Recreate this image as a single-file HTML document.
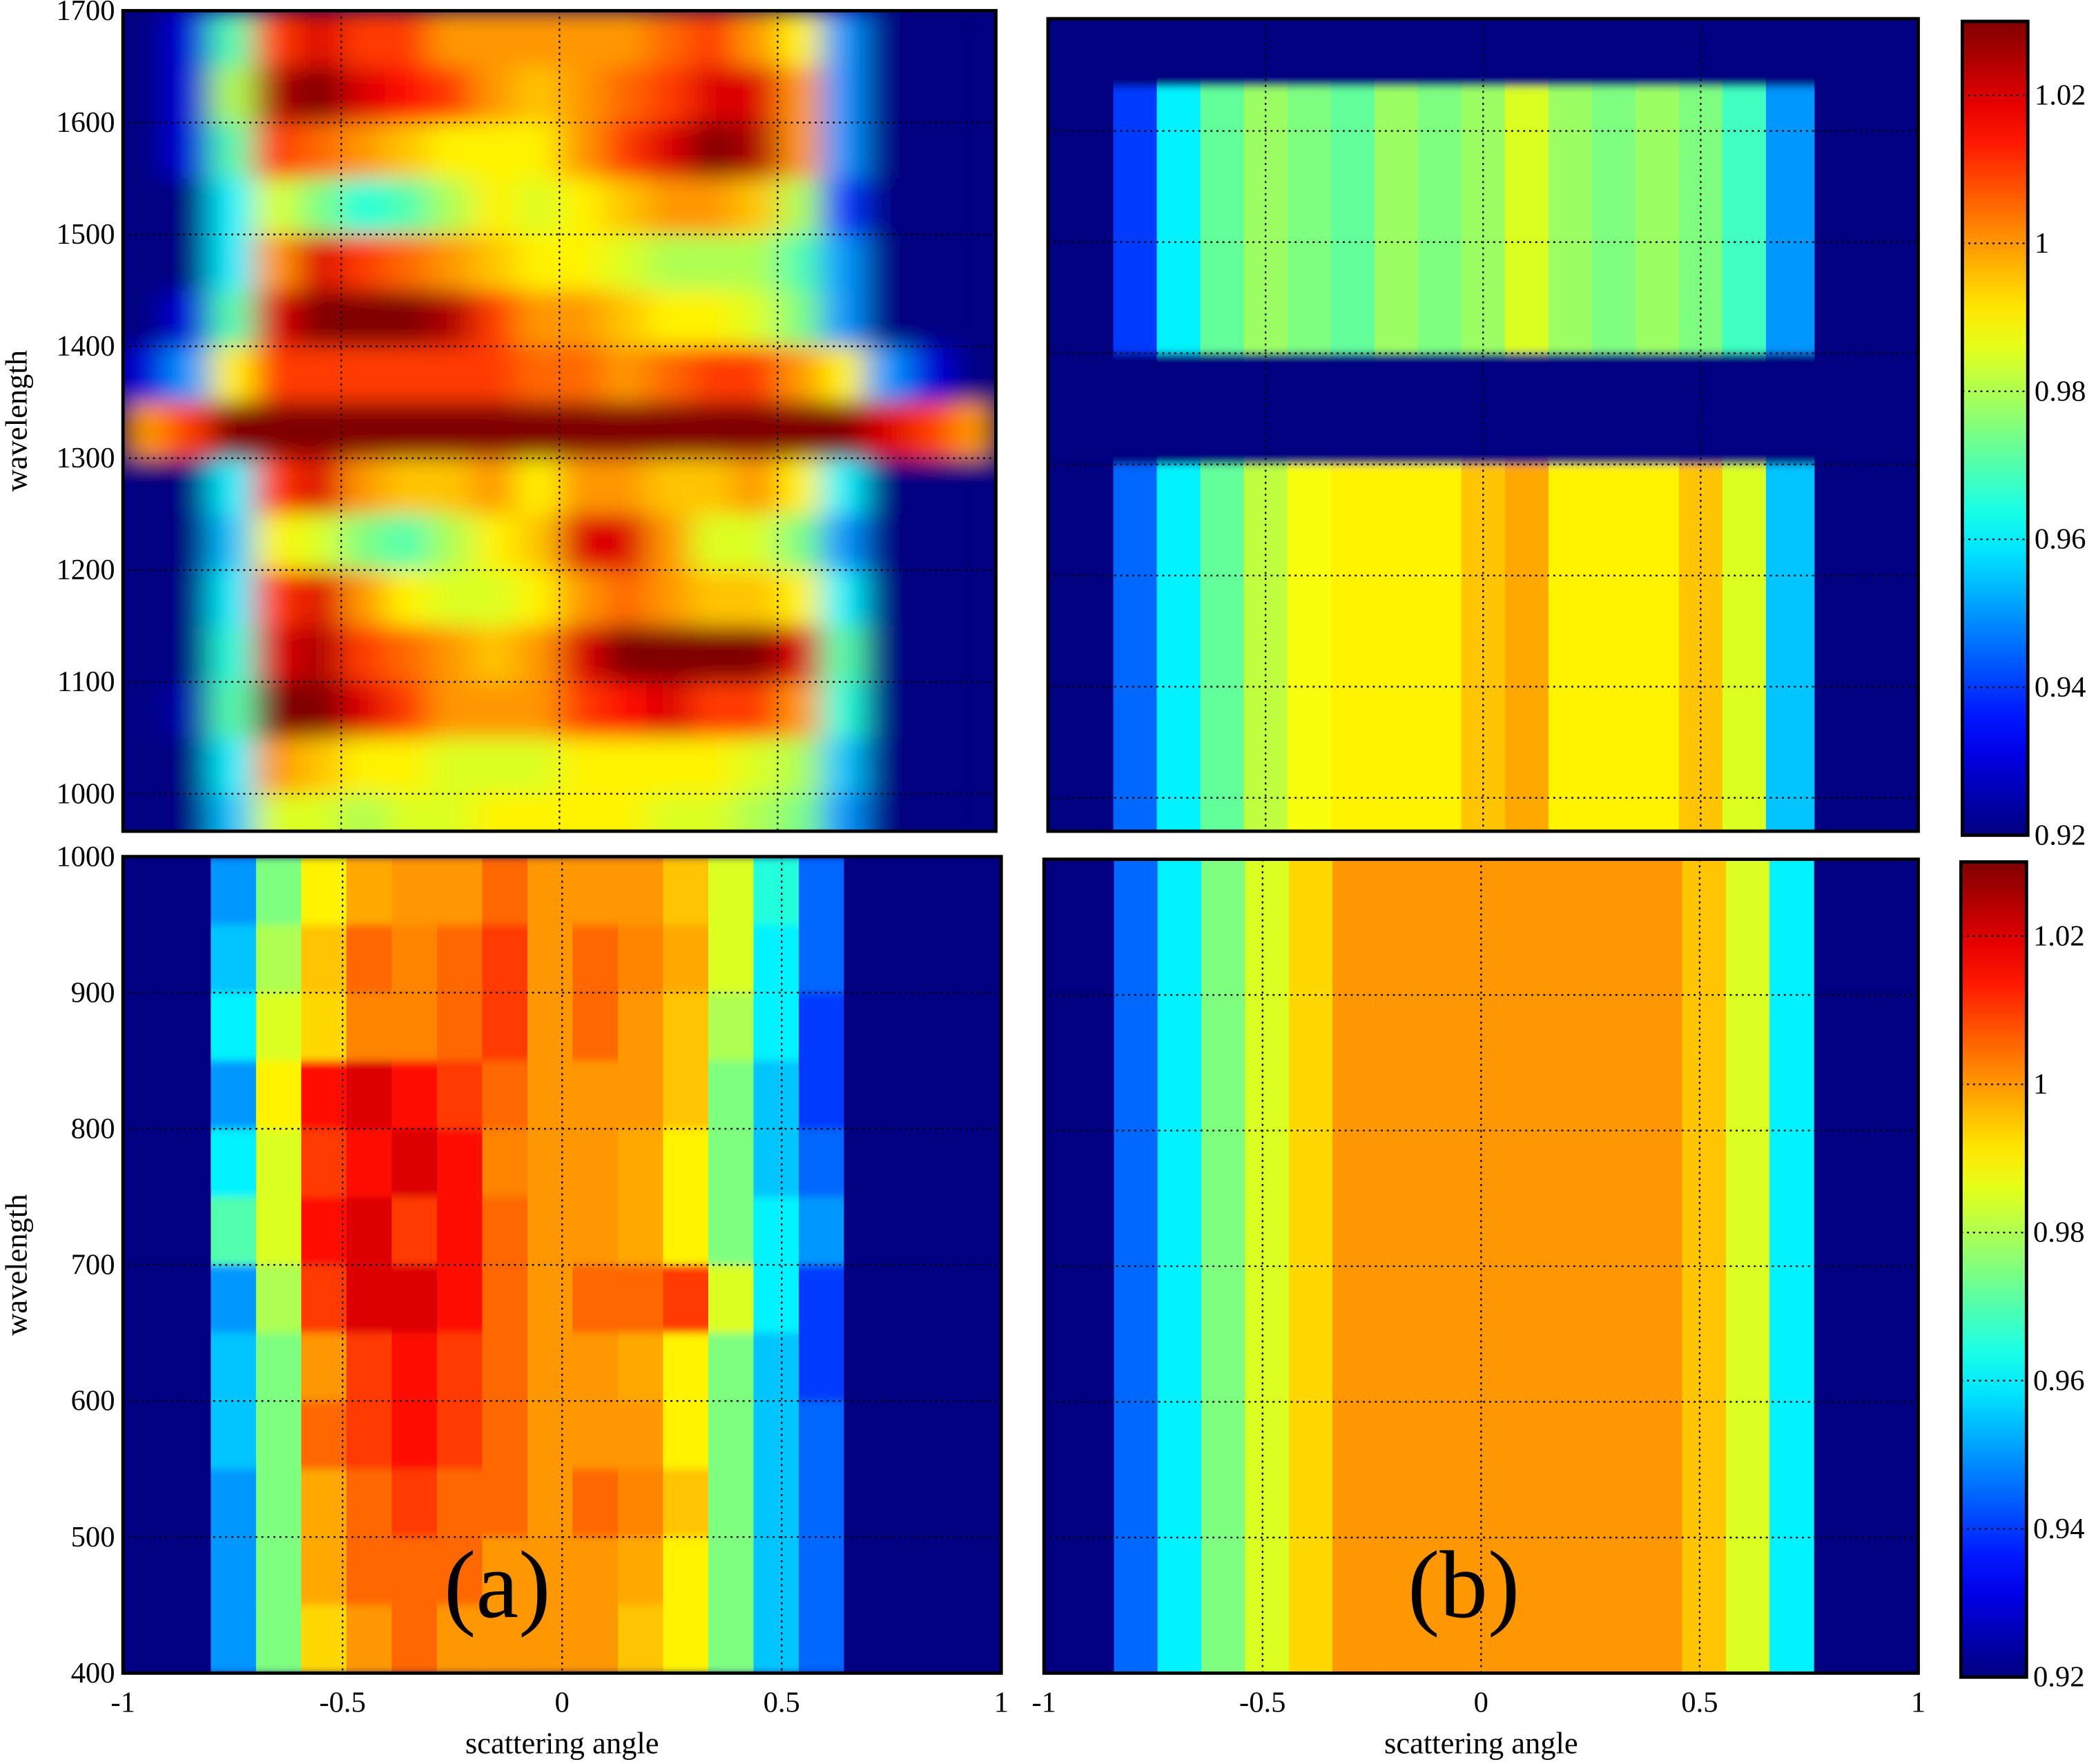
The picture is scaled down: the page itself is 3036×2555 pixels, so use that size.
<!DOCTYPE html>
<html><head><meta charset="utf-8">
<style>
html,body{margin:0;padding:0;background:#fff;}
svg{display:block;}
text{font-family:"Liberation Serif",serif;fill:#000;}
</style></head>
<body>
<svg id="fig" width="3036" height="2555" viewBox="0 0 1568 1320" preserveAspectRatio="none" xmlns="http://www.w3.org/2000/svg">
<defs>
<filter id="blurTL" x="0" y="0" width="1" height="1"><feGaussianBlur stdDeviation="12 8" edgeMode="duplicate"/></filter>
<filter id="blurS" x="0" y="0" width="1" height="1"><feGaussianBlur stdDeviation="0 3" edgeMode="duplicate"/></filter>
<clipPath id="cTL"><rect x="92" y="8" width="653" height="614"/></clipPath>
<clipPath id="cTR"><rect x="784" y="14" width="651" height="608"/></clipPath>
<clipPath id="cBL"><rect x="92" y="641" width="657" height="611"/></clipPath>
<clipPath id="cBR"><rect x="781" y="643" width="654" height="609"/></clipPath>
<linearGradient id="jetGrad" x1="0" y1="1" x2="0" y2="0"></linearGradient>
</defs>
<g id="root"></g>
</svg>
<script>
// ---- data ----
const vmin = 0.92, vmax = 1.03;
const tlAngles = [-1,-0.9,-0.8,-0.7,-0.6,-0.5,-0.4,-0.3,-0.2,-0.1,0,0.1,0.2,0.3,0.4,0.5,0.6,0.7,0.8,0.9,1];
const tlWave = [1700,1650,1600,1550,1500,1450,1400,1350,1300,1250,1200,1150,1100,1050,1000,950];
const tlVals = [
[.92,.93,.97,1.01,1.02,1.01,1.01,1.0,1.0,1.0,1.0,1.0,1.005,1.01,1.0,.99,.95,.92,.92,.92],
[.92,.93,.98,1.025,1.03,1.02,1.015,1.01,1.0,.995,1.0,1.005,1.01,1.02,1.02,1.0,.95,.92,.92,.92],
[.92,.93,.97,1.01,1.005,1.0,.995,.99,.99,.99,1.0,1.01,1.02,1.03,1.025,1.0,.95,.92,.92,.92],
[.92,.92,.96,.985,.975,.965,.97,.98,.99,.985,.99,.995,1.0,1.0,.995,.98,.94,.92,.92,.92],
[.92,.92,.96,1.0,1.02,1.01,1.005,1.0,.995,.99,.99,.985,.98,.98,.98,.97,.95,.92,.92,.92],
[.92,.93,.97,1.02,1.03,1.03,1.03,1.025,1.01,1.0,1.0,.995,.99,.99,.985,.975,.95,.92,.92,.92],
[.93,.95,.99,1.01,1.01,1.01,1.01,1.01,1.01,1.005,1.005,1.0,1.005,1.01,1.01,1.0,.99,.95,.93,.92],
[1.0,1.01,1.03,1.03,1.03,1.03,1.03,1.03,1.03,1.03,1.03,1.03,1.03,1.03,1.03,1.03,1.03,1.02,1.01,1.0],
[.92,.92,.96,1.01,1.02,1.0,.995,.995,1.0,.99,1.0,1.0,.995,.995,1.0,.99,.96,.92,.92,.92],
[.92,.92,.955,.99,.985,.975,.97,.98,.99,.995,1.02,1.02,1.0,.985,.985,.975,.95,.92,.92,.92],
[.92,.92,.96,1.01,1.02,1.0,.99,.985,.985,.99,1.0,1.005,1.0,.995,.995,.99,.96,.92,.92,.92],
[.92,.92,.965,1.02,1.025,1.01,1.005,1.0,.995,1.0,1.02,1.03,1.03,1.03,1.03,1.02,.97,.92,.92,.92],
[.92,.925,.97,1.03,1.03,1.02,1.01,1.0,1.0,1.0,1.01,1.015,1.02,1.01,1.01,1.0,.965,.92,.92,.92],
[.92,.92,.96,1.0,.995,.99,.99,.985,.985,.985,.99,.99,.99,.99,.985,.98,.955,.92,.92,.92],
[.92,.92,.955,.985,.985,.98,.985,.985,.99,.99,.99,.99,.985,.985,.98,.975,.95,.92,.92,.92]
];
const trAngles = [-0.85,-0.75,-0.65,-0.55,-0.45,-0.35,-0.25,-0.15,-0.05,0.05,0.15,0.25,0.35,0.45,0.55,0.65,0.76];
const trWave = [1700,1640,1400,1300,950];
const trVals = [
[.92,.92,.92,.92,.92,.92,.92,.92,.92,.92,.92,.92,.92,.92,.92,.92],
[.94,.96,.972,.978,.975,.972,.978,.975,.978,.985,.978,.975,.978,.975,.968,.95],
[.92,.92,.92,.92,.92,.92,.92,.92,.92,.92,.92,.92,.92,.92,.92,.92],
[.945,.96,.972,.982,.988,.99,.99,.99,.995,.998,.99,.99,.99,.995,.985,.955]
];
const blAngles = [-0.8,-0.697,-0.594,-0.491,-0.388,-0.285,-0.182,-0.079,0.024,0.127,0.23,0.333,0.436,0.539,0.64];
const blWave = [1000,950,900,850,800,750,700,650,600,550,500,450,400];
const blVals = [
[0.95,0.975,0.99,0.998,1.0,1.0,1.005,1.0,1.0,1.0,0.995,0.985,0.965,0.945],
[0.955,0.98,0.995,1.005,1.002,1.005,1.01,1.0,1.005,1.002,0.998,0.985,0.96,0.945],
[0.96,0.985,0.993,1.002,1.002,1.005,1.01,1.0,1.005,1.0,0.995,0.98,0.96,0.94],
[0.95,0.99,1.015,1.02,1.015,1.01,1.005,1.0,1.0,1.0,0.995,0.975,0.955,0.94],
[0.96,0.985,1.01,1.015,1.02,1.015,1.002,1.0,1.0,0.998,0.99,0.975,0.955,0.945],
[0.97,0.985,1.015,1.02,1.01,1.015,1.005,1.0,1.0,0.998,0.99,0.975,0.96,0.95],
[0.95,0.98,1.01,1.02,1.02,1.015,1.005,1.0,1.005,1.005,1.01,0.985,0.96,0.94],
[0.955,0.975,1.0,1.01,1.015,1.01,1.005,1.0,1.0,0.998,0.99,0.975,0.955,0.94],
[0.955,0.975,1.005,1.01,1.015,1.01,1.005,1.0,1.0,1.0,0.99,0.975,0.955,0.945],
[0.95,0.975,0.998,1.005,1.01,1.005,1.005,1.0,1.005,1.002,0.995,0.975,0.955,0.945],
[0.95,0.975,0.998,1.005,1.005,1.005,1.0,1.0,1.0,0.998,0.99,0.975,0.955,0.945],
[0.95,0.975,0.993,1.0,1.005,1.0,1.0,1.0,1.0,0.995,0.99,0.975,0.955,0.945]
];
const brAngles = [-0.84,-0.74,-0.64,-0.54,-0.44,-0.34,-0.24,-0.14,-0.04,0.06,0.16,0.26,0.36,0.46,0.56,0.66,0.76];
const brWave = [1000,400];
const brVals = [
[0.945,0.96,0.975,0.985,0.993,1.0,1.0,1.0,1.0,1.0,1.0,1.0,1.0,0.995,0.985,0.96]
];
const xTicks = [-1,-0.5,0,0.5,1];
const xTickLabels = ["-1","-0.5","0","0.5","1"];
const topYTicks = [1000,1100,1200,1300,1400,1500,1600,1700];
const botYTicks = [400,500,600,700,800,900,1000];
const cbTicks = [0.92,0.94,0.96,0.98,1,1.02];
const cbTickLabels = ["0.92","0.94","0.96","0.98","1","1.02"];

// ---- helpers ----
const NS = "http://www.w3.org/2000/svg";
const root = document.getElementById('root');
function mk(tag, attrs, parent){ const e=document.createElementNS(NS,tag); for(const k in attrs) e.setAttribute(k,attrs[k]); (parent||root).appendChild(e); return e; }
function cl(v){return Math.max(0,Math.min(1,v));}
function jet(v){ const t=cl((v-vmin)/(vmax-vmin)); const r=cl(1.5-Math.abs(4*t-3)), g=cl(1.5-Math.abs(4*t-2)), b=cl(1.5-Math.abs(4*t-1)); return `rgb(${Math.round(r*255)},${Math.round(g*255)},${Math.round(b*255)})`; }
function lin(d0,d1,r0,r1){ return v=>r0+(v-d0)*(r1-r0)/(d1-d0); }

const panels = [
 {id:'tl', box:[92,8,745,622], x:lin(-1,1,92,745), y:lin(1000,1700,594,8), ang:tlAngles, wave:tlWave, vals:tlVals, clip:'cTL', filt:'blurTL', yt:topYTicks, xlab:false, ylab:true},
 {id:'tr', box:[784,14,1435,622], x:lin(-1,1,784,1435), y:lin(1000,1600,597,98), ang:trAngles, wave:trWave, vals:trVals, clip:'cTR', filt:'blurS', yt:topYTicks, xlab:false, ylab:false},
 {id:'bl', box:[92,641,749,1252], x:lin(-1,1,92,749), y:lin(400,1000,1252,641), ang:blAngles, wave:blWave, vals:blVals, clip:'cBL', filt:'blurS', yt:botYTicks, xlab:true, ylab:true},
 {id:'br', box:[781,643,1435,1252], x:lin(-1,1,781,1435), y:lin(400,1000,1252,643), ang:brAngles, wave:brWave, vals:brVals, clip:'cBR', filt:null, yt:botYTicks, xlab:true, ylab:false}
];

panels.forEach(p=>{
  const [x0,y0,x1,y1]=p.box;
  const g = mk('g',{'clip-path':`url(#${p.clip})`});
  
  
  mk('rect',{x:x0,y:y0,width:x1-x0,height:y1-y0,fill:jet(vmin)},g);
  const cells = mk('g', p.filt?{filter:`url(#${p.filt})`}:{}, g);
  p.vals.forEach((row,ri)=>{
    row.forEach((v,ci)=>{
      const xa=p.x(p.ang[ci]), xb=p.x(p.ang[ci+1]);
      const ya=p.y(p.wave[ri]), yb=p.y(p.wave[ri+1]);
      const r = mk('rect',{x:Math.min(xa,xb),y:Math.min(ya,yb),width:Math.abs(xb-xa)+0.6,height:Math.abs(yb-ya)+0.6,fill:jet(v)},cells);
      
      
    });
  });
  xTicks.forEach(t=>{ const xx=p.x(t); if(xx>x0+2&&xx<x1-2) mk('line',{x1:xx,x2:xx,y1:y0,y2:y1,stroke:'#000','stroke-width':1.2,'stroke-dasharray':'1.5 3'}); });
  p.yt.forEach(t=>{ const yy=p.y(t); if(yy>y0+2&&yy<y1-2) mk('line',{x1:x0,x2:x1,y1:yy,y2:yy,stroke:'#000','stroke-width':1.2,'stroke-dasharray':'1.5 3'}); });
  const frame = mk('rect',{x:x0,y:y0,width:x1-x0,height:y1-y0,fill:'none',stroke:'#000','stroke-width':2.5});
  
  
  if(p.ylab){
    p.yt.forEach(t=>{ const tx=mk('text',{x:x0-6,y:p.y(t)+7,'text-anchor':'end','font-size':22}); tx.textContent=t;
        });
    const yl=mk('text',{x:0,y:0,'text-anchor':'middle','font-size':23,transform:`translate(20,${(y0+y1)/2}) rotate(-90)`}); yl.textContent='wavelength';
     
  }
  if(p.xlab){
    xTicks.forEach((t,i)=>{ const tx=mk('text',{x:p.x(t),y:y1+29,'text-anchor':'middle','font-size':22}); tx.textContent=xTickLabels[i];
        });
    const xl=mk('text',{x:(x0+x1)/2,y:y1+60,'text-anchor':'middle','font-size':23}); xl.textContent='scattering angle';
     
  }
});

[['(a)',372,'panel-label-a'],['(b)',1095,'panel-label-b']].forEach(([s,x,n])=>{
  const t=mk('text',{x:x,y:1210,'text-anchor':'middle','font-size':72}); t.textContent=s;
   
});

const grad=document.getElementById('jetGrad');
for(let i=0;i<=20;i++){ const v=vmin+(vmax-vmin)*i/20; const s=document.createElementNS(NS,'stop'); s.setAttribute('offset',i/20); s.setAttribute('stop-color',jet(v)); grad.appendChild(s); }
[[1468,16,1517,625],[1467,645,1516,1255]].forEach((b,k)=>{
  const [x0,y0,x1,y1]=b;
  const cy=lin(vmin,vmax,y1,y0);
  const r=mk('rect',{x:x0,y:y0,width:x1-x0,height:y1-y0,fill:'url(#jetGrad)',stroke:'#000','stroke-width':2.5});
  
  
  cbTicks.forEach((t,i)=>{
    const yy=cy(t);
    if(yy>y0+3&&yy<y1-3) mk('line',{x1:x0,x2:x1,y1:yy,y2:yy,stroke:'#000','stroke-width':1.2,'stroke-dasharray':'1.5 3'});
    const tx=mk('text',{x:x1+5,y:yy+7,'font-size':22}); tx.textContent=cbTickLabels[i];
     
  });
});
</script>
</body></html>
